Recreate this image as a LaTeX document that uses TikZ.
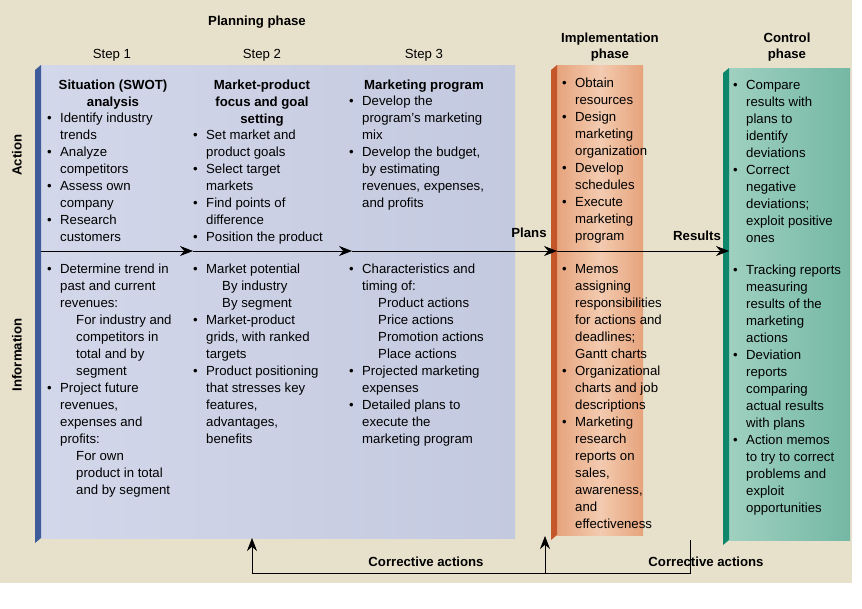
\documentclass[tikz,border=0pt]{standalone}
\usepackage{fontspec}
\setmainfont{Liberation Sans}
\usetikzlibrary{arrows.meta}
\definecolor{bg}{HTML}{E7E0CB}
\definecolor{blueA}{HTML}{D3D7EA}
\definecolor{blueB}{HTML}{C3C9DF}
\definecolor{blueE}{HTML}{3E5C99}
\definecolor{orA}{HTML}{F3CBB0}
\definecolor{orB}{HTML}{E6A37C}
\definecolor{orE}{HTML}{C4562A}
\definecolor{grA}{HTML}{9FD0C0}
\definecolor{grB}{HTML}{74B8A4}
\definecolor{grE}{HTML}{0E876C}
\newcommand{\B}{\makebox[13pt][l]{\textbullet}}
\newcommand{\I}{\hspace*{13pt}}
\newcommand{\II}{\hspace*{29pt}}
\tikzset{
 txt/.style={anchor=north west,inner sep=0pt,align=left,font=\fontsize{13.2}{17}\selectfont},
 hd/.style={inner sep=0pt,align=center,font=\bfseries\fontsize{13.2}{17}\selectfont},
 lbl/.style={inner sep=0pt,font=\fontsize{13.2}{15}\selectfont},
 blbl/.style={inner sep=0pt,font=\bfseries\fontsize{13.2}{15}\selectfont},
 arr/.style={-{Stealth[length=13pt,width=10pt]},line width=0.7pt},
 ln/.style={line width=0.7pt}
}
\begin{document}
\begin{tikzpicture}[x=1pt,y=-1pt]
\useasboundingbox (0,0) rectangle (862,608);
\fill[bg] (0,0) rectangle (852,583);
% panels
\shade[left color=blueA,right color=blueB] (41,65) rectangle (515,538);
\fill[blueE] (35,70) -- (41,65) -- (41,538) -- (35,543) -- cycle;
\shade[left color=orB,right color=orB,middle color=orA] (557,65) rectangle (643,535);
\fill[orE] (551,70) -- (557,65) -- (557,535) -- (551,540) -- cycle;
\shade[left color=grA,right color=grB] (729,68) rectangle (850,540);
\fill[grE] (723,73) -- (729,68) -- (729,540) -- (723,545) -- cycle;
% titles
\node[blbl] (pp) at (257,22) {Planning phase};
\node[lbl] (s1) at (112,55) {Step 1};
\node[lbl] (s2) at (262,55) {Step 2};
\node[lbl] (s3) at (424,55) {Step 3};
\node[hd,font=\bfseries\fontsize{13.2}{16}\selectfont] (ip) at (610,47) {Implementation\\phase};
\node[hd,font=\bfseries\fontsize{13.2}{16}\selectfont] (cp) at (787,47) {Control\\phase};
\node[blbl,rotate=90] (act) at (17,155) {Action};
\node[blbl,rotate=90] (inf) at (17,355) {Information};
% main arrow
\coordinate (a0) at (41,251);
\coordinate (a1) at (193,251);
\coordinate (a2) at (352,251);
\coordinate (a3) at (557,251);
\coordinate (a4) at (729,251);
\draw[arr] (a0) -- (a1);
\draw[arr] (a1) -- (a2);
\draw[arr] (a2) -- (a3);
\draw[arr] (a3) -- (a4);
\node[blbl] (plans) at (529,233) {Plans};
\node[blbl] (res) at (697,236) {Results};
% bottom
\coordinate (c1) at (690,540);
\coordinate (c2) at (690,573);
\coordinate (c3) at (545,573);
\coordinate (c4) at (545,536);
\coordinate (c5) at (252,573);
\coordinate (c6) at (252,538);
\draw[ln] (c1) -- (c2) -- (c5);
\draw[arr] (c3) -- (c4);
\draw[arr] (c5) -- (c6);
\node[blbl] (ca1) at (426,562) {Corrective actions};
\node[blbl] (ca2) at (706,562) {Corrective actions};
% column 1
\node[hd] (h1) at (113,94.5) {Situation (SWOT)\\analysis};
\node[txt] (t1) at (47,113) {\B Identify industry\\\I trends\\\B Analyze\\\I competitors\\\B Assess own\\\I company\\\B Research\\\I customers};
\node[txt] (i1) at (47,264) {\B Determine trend in\\\I past and current\\\I revenues:\\\II For industry and\\\II competitors in\\\II total and by\\\II segment\\\B Project future\\\I revenues,\\\I expenses and\\\I profits:\\\II For own\\\II product in total\\\II and by segment};
% column 2
\node[hd] (h2) at (262,103) {Market-product\\focus and goal\\setting};
\node[txt] (t2) at (193,130) {\B Set market and\\\I product goals\\\B Select target\\\I markets\\\B Find points of\\\I difference\\\B Position the product};
\node[txt] (i2) at (193,264) {\B Market potential\\\II By industry\\\II By segment\\\B Market-product\\\I grids, with ranked\\\I targets\\\B Product positioning\\\I that stresses key\\\I features,\\\I advantages,\\\I benefits};
% column 3
\node[hd] (h3) at (424,86) {Marketing program};
\node[txt] (t3) at (349,96) {\B Develop the\\\I program's marketing\\\I mix\\\B Develop the budget,\\\I by estimating\\\I revenues, expenses,\\\I and profits};
\node[txt] (i3) at (349,264) {\B Characteristics and\\\I timing of:\\\II Product actions\\\II Price actions\\\II Promotion actions\\\II Place actions\\\B Projected marketing\\\I expenses\\\B Detailed plans to\\\I execute the\\\I marketing program};
% implementation
\node[txt] (t4) at (562,78) {\B Obtain\\\I resources\\\B Design\\\I marketing\\\I organization\\\B Develop\\\I schedules\\\B Execute\\\I marketing\\\I program};
\node[txt] (i4) at (562,264) {\B Memos\\\I assigning\\\I responsibilities\\\I for actions and\\\I deadlines;\\\I Gantt charts\\\B Organizational\\\I charts and job\\\I descriptions\\\B Marketing\\\I research\\\I reports on\\\I sales,\\\I awareness,\\\I and\\\I effectiveness};
% control
\node[txt] (t5) at (733,80) {\B Compare\\\I results with\\\I plans to\\\I identify\\\I deviations\\\B Correct\\\I negative\\\I deviations;\\\I exploit positive\\\I ones};
\node[txt] (i5) at (733,265) {\B Tracking reports\\\I measuring\\\I results of the\\\I marketing\\\I actions\\\B Deviation\\\I reports\\\I comparing\\\I actual results\\\I with plans\\\B Action memos\\\I to try to correct\\\I problems and\\\I exploit\\\I opportunities};
\end{tikzpicture}
\end{document}
